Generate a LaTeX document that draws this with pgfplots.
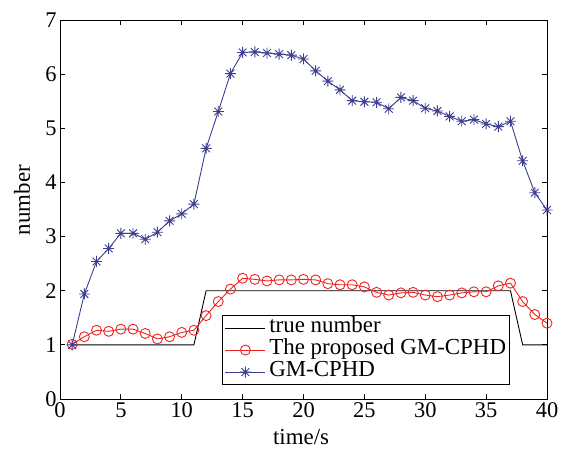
\documentclass[border=0pt]{standalone}
\usepackage{fontspec}
\setmainfont{Liberation Serif}
\usepackage{pgfplots}
\usepackage{pgfplotstable}
\pgfplotsset{compat=1.18}
\definecolor{myblue}{RGB}{62,62,145}
\definecolor{myred}{RGB}{236,36,36}
\pgfdeclareplotmark{mstar}{%
  \pgfpathmoveto{\pgfqpoint{-\pgfplotmarksize}{0pt}}\pgfpathlineto{\pgfqpoint{\pgfplotmarksize}{0pt}}%
  \pgfpathmoveto{\pgfqpoint{0pt}{-\pgfplotmarksize}}\pgfpathlineto{\pgfqpoint{0pt}{\pgfplotmarksize}}%
  \pgfpathmoveto{\pgfqpoint{-0.707\pgfplotmarksize}{-0.707\pgfplotmarksize}}\pgfpathlineto{\pgfqpoint{0.707\pgfplotmarksize}{0.707\pgfplotmarksize}}%
  \pgfpathmoveto{\pgfqpoint{-0.707\pgfplotmarksize}{0.707\pgfplotmarksize}}\pgfpathlineto{\pgfqpoint{0.707\pgfplotmarksize}{-0.707\pgfplotmarksize}}%
  \pgfusepathqstroke}

\pgfplotstableread{
x y
1 1
11 1
12 2
37 2
38 1
40 1
}\truetab

\pgfplotstableread{
x y
1 1.01
2 1.15
3 1.27
4 1.25
5 1.29
6 1.29
7 1.21
8 1.11
9 1.15
10 1.23
11 1.27
12 1.54
13 1.80
14 2.03
15 2.23
16 2.21
17 2.18
18 2.20
19 2.20
20 2.21
21 2.20
22 2.13
23 2.11
24 2.11
25 2.07
26 1.97
27 1.92
28 1.96
29 1.97
30 1.92
31 1.89
32 1.92
33 1.96
34 1.98
35 1.98
36 2.09
37 2.14
38 1.80
39 1.56
40 1.40
}\redtab

\pgfplotstableread{
x y
1 1.00
2 1.94
3 2.54
4 2.78
5 3.06
6 3.06
7 2.95
8 3.08
9 3.29
10 3.42
11 3.60
12 4.63
13 5.31
14 6.01
15 6.40
16 6.41
17 6.39
18 6.37
19 6.35
20 6.28
21 6.06
22 5.87
23 5.71
24 5.51
25 5.49
26 5.48
27 5.36
28 5.57
29 5.51
30 5.37
31 5.32
32 5.22
33 5.13
34 5.16
35 5.08
36 5.03
37 5.13
38 4.40
39 3.81
40 3.49
}\bluetab

\begin{document}
\begin{tikzpicture}
\useasboundingbox (-60bp,-54bp) rectangle (503bp,399bp);
\begin{axis}[
  at={(0,0)}, anchor=south west,
  scale only axis, width=487bp, height=379bp,
  xmin=0, xmax=40, ymin=0, ymax=7,
  xtick={0,5,...,40}, ytick={0,1,...,7},
  tick align=inside, major tick length=5bp,
  axis line style={line width=0.9bp},
  every tick/.style={black, line width=0.8bp},
  tick label style={font=\fontsize{22.5}{23}\selectfont},
  /pgf/number format/assume math mode=true,
  xlabel={time/s}, ylabel={number},
  label style={font=\fontsize{23}{23}\selectfont},
  xlabel style={at={(axis description cs:0.495,-0.1)}, anchor=center},
  ylabel style={at={(axis description cs:-0.078,0.525)}, anchor=center},
  legend cell align=left,
  legend image code/.code={\draw[mark repeat=2,mark phase=2,#1] plot coordinates {(0bp,0bp) (20bp,0bp) (40bp,0bp)};},
  legend style={at={(rel axis cs:0.924,0.037)}, anchor=south east, draw=black, line width=0.8bp,
    font=\fontsize{23}{23}\selectfont, inner sep=2.5bp, row sep=2bp, column sep=2.5bp,
    nodes={inner sep=1bp, text height=13.5bp, text depth=4.5bp}},
]
\addplot[black, line width=0.9bp, mark=none] table[x=x,y=y] {\truetab};
\addlegendentry{true number}
\addplot[myred, line width=0.9bp, mark=o, mark size=5bp, mark options={solid, line width=0.9bp}] table[x=x,y=y] {\redtab};
\addlegendentry{The proposed GM-CPHD}
\addplot[myblue, line width=0.9bp, mark=mstar, mark size=5.5bp, mark options={solid, line width=0.9bp}] table[x=x,y=y] {\bluetab};
\addlegendentry{GM-CPHD}
\end{axis}
\end{tikzpicture}
\end{document}
